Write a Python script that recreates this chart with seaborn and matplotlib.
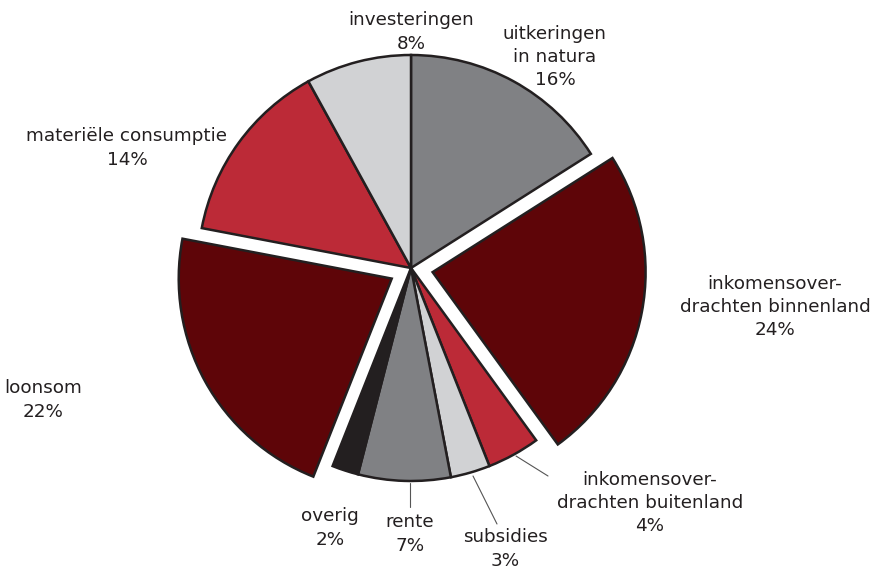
import matplotlib
matplotlib.use('Agg')
import matplotlib.pyplot as plt
import seaborn as sns

# Data (share of spending, clockwise from the top)
categories = ['uitkeringen\nin natura', 'inkomensover-\ndrachten binnenland',
              'inkomensover-\ndrachten buitenland', 'subsidies', 'rente', 'overig',
              'loonsom', 'materiële consumptie', 'investeringen']
values = [16, 24, 4, 3, 7, 2, 22, 14, 8]

colors = ['#808184', '#5e0508', '#bc2a37', '#d1d2d4', '#808184', '#231f20',
          '#5e0508', '#bc2a37', '#d1d2d4']
explode = [0, 22, 0, 0, 0, 0, 22, 0, 0]

sns.set_theme(style='white')
plt.rcParams['font.family'] = ['DejaVu Sans']

fig = plt.figure(figsize=(8.76, 5.7), dpi=100)
ax = fig.add_axes([0, 0, 1, 1])

H = 570
cx, cy, r = 411, H - 268, 213
ax.pie(values, colors=colors, explode=explode, startangle=90, counterclock=False,
       center=(cx, cy), radius=r, frame=True,
       wedgeprops=dict(edgecolor='#231f20', linewidth=1.8))
ax.set_xlim(0, 876)
ax.set_ylim(0, 570)
ax.set_aspect('equal')
ax.axis('off')

# label positions in pixels (x, y of the block centre)
label_pos = [(555, 57), (775, 307), (650, 503), (505, 549), (410, 534),
             (330, 528), (43, 400), (127, 148), (411, 32)]
txt = dict(fontsize=13.2, color='#231f20', ha='center', va='center', linespacing=1.38)
for cat, v, (x, y) in zip(categories, values, label_pos):
    ax.text(x, H - y, f'{cat}\n{v}%', **txt)

# leader lines
lc = dict(color='#555555', linewidth=0.8)
ax.plot([410, 410], [H - 483, H - 507], **lc)
ax.plot([473, 497], [H - 476, H - 524], **lc)
ax.plot([516, 548], [H - 456, H - 476], **lc)

fig.savefig('out.png', dpi=100)
